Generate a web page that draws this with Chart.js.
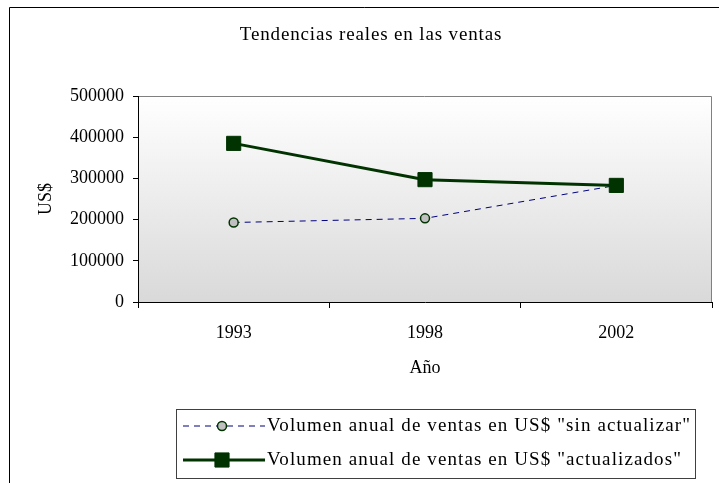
<!DOCTYPE html>
<html><head><meta charset="utf-8">
<script src="https://cdn.jsdelivr.net/npm/chart.js@4"></script>
<style>html,body{margin:0;padding:0;background:#fff}canvas{display:block}</style>
</head><body>
<canvas id="c" width="719" height="483"></canvas>
<script>
const categories = ['1993', '1998', '2002'];
const sinActualizar = [193000, 203000, 283000];
const actualizados = [385000, 297000, 283000];
const yTicks = [0, 100000, 200000, 300000, 400000, 500000];
const seriesNames = ['Volumen anual de ventas en US$ "sin actualizar"', 'Volumen anual de ventas en US$ "actualizados"'];
const chartTitle = 'Tendencias reales en las ventas';
const xTitle = 'Año';
const yTitle = 'US$';

const FONT = "'Liberation Serif','Times New Roman',serif";
const NAVY = '#000080';
const DKGREEN = '#003300';

const decor = {
  id: 'decor',
  beforeDraw(chart) {
    const ctx = chart.ctx, a = chart.chartArea;
    ctx.save();
    ctx.fillStyle = '#fff';
    ctx.fillRect(0, 0, chart.width, chart.height);
    // outer frame
    ctx.strokeStyle = '#000';
    ctx.lineWidth = 1;
    ctx.beginPath();
    ctx.moveTo(9.5, chart.height);
    ctx.lineTo(9.5, 7.5);
    ctx.lineTo(chart.width, 7.5);
    ctx.stroke();
    // plot background gradient
    const g = ctx.createLinearGradient(0, a.top, 0, a.bottom);
    g.addColorStop(0, '#ffffff');
    g.addColorStop(1, '#d9d9d9');
    ctx.fillStyle = g;
    ctx.fillRect(a.left, a.top, a.right - a.left, a.bottom - a.top);
    ctx.strokeStyle = '#808080';
    ctx.beginPath();
    ctx.moveTo(a.left, a.top + 0.5);
    ctx.lineTo(a.right - 0.5, a.top + 0.5);
    ctx.lineTo(a.right - 0.5, a.bottom);
    ctx.stroke();
    // title
    ctx.fillStyle = '#000';
    ctx.font = '19px ' + FONT;
    ctx.letterSpacing = '0.85px';
    ctx.textAlign = 'center';
    ctx.textBaseline = 'middle';
    ctx.fillText(chartTitle, 371, 35);
    ctx.restore();
  },
  afterDraw(chart) {
    const ctx = chart.ctx;
    ctx.save();
    ctx.strokeStyle = '#404040';
    ctx.lineWidth = 1;
    ctx.strokeRect(176.5, 409.5, 519, 69);
    const rows = [426, 460];
    chart.data.datasets.forEach((ds, i) => {
      const y = rows[i];
      ctx.save();
      ctx.strokeStyle = ds.borderColor;
      ctx.lineWidth = ds.borderWidth;
      ctx.setLineDash(ds.borderDash || []);
      ctx.beginPath();
      ctx.moveTo(183, y);
      ctx.lineTo(265, y);
      ctx.stroke();
      ctx.restore();
      ctx.save();
      ctx.fillStyle = ds.pointBackgroundColor;
      ctx.strokeStyle = ds.pointBorderColor;
      ctx.lineWidth = ds.pointBorderWidth;
      ctx.beginPath();
      if (ds.pointStyle === 'circle') {
        ctx.arc(222, y, ds.pointRadius, 0, Math.PI * 2);
      } else {
        const s = ds.pointRadius * Math.SQRT1_2;
        ctx.rect(222 - s, y - s, 2 * s, 2 * s);
      }
      ctx.fill();
      ctx.stroke();
      ctx.restore();
      ctx.save();
      ctx.fillStyle = '#000';
      ctx.font = '19px ' + FONT;
      ctx.letterSpacing = '1.1px';
      ctx.textAlign = 'left';
      ctx.textBaseline = 'middle';
      ctx.fillText(seriesNames[i], 267, y);
      ctx.restore();
    });
    ctx.restore();
  }
};

new Chart(document.getElementById('c'), {
  type: 'line',
  data: {
    labels: categories,
    datasets: [
      {
        label: seriesNames[0],
        data: sinActualizar,
        order: 1,
        borderColor: NAVY,
        borderWidth: 1,
        borderDash: [6, 5],
        pointStyle: 'circle',
        pointRadius: 4.5,
        pointBackgroundColor: '#c0c0c0',
        pointBorderColor: DKGREEN,
        pointBorderWidth: 1.5,
        tension: 0
      },
      {
        label: seriesNames[1],
        data: actualizados,
        order: 0,
        borderColor: DKGREEN,
        borderWidth: 3,
        pointStyle: 'rect',
        pointRadius: 10,
        pointBackgroundColor: DKGREEN,
        pointBorderColor: DKGREEN,
        pointBorderWidth: 1,
        tension: 0
      }
    ]
  },
  options: {
    responsive: false,
    animation: false,
    events: [],
    layout: { autoPadding: false, padding: { left: 35, top: 96, right: 7, bottom: 104 } },
    plugins: { legend: { display: false }, title: { display: false }, tooltip: { enabled: false } },
    scales: {
      x: {
        offset: true,
        grid: { offset: true, display: true, drawOnChartArea: false, drawTicks: true, tickLength: 6, color: '#000' },
        border: { display: true, color: '#000', width: 1 },
        ticks: { color: '#000', font: { family: FONT, size: 18 }, padding: 14, maxRotation: 0 },
        title: { display: true, text: xTitle, color: '#000', font: { family: FONT, size: 18 }, padding: 0 },
        afterFit(s) { s.height = 77; s.paddingLeft = 0; s.paddingRight = 0; }
      },
      y: {
        min: 0, max: 500000,
        afterBuildTicks(s) { s.ticks = yTicks.map(v => ({ value: v })); },
        grid: { display: true, drawOnChartArea: false, drawTicks: true, tickLength: 5, color: '#000' },
        border: { display: true, color: '#000', width: 1 },
        ticks: { color: '#000', font: { family: FONT, size: 18 }, padding: 9, callback: v => String(v) },
        title: { display: true, text: yTitle, color: '#000', font: { family: FONT, size: 18 }, padding: 0 },
        afterFit(s) { s.width = 103; }
      }
    }
  },
  plugins: [decor]
});
</script>
</body></html>
